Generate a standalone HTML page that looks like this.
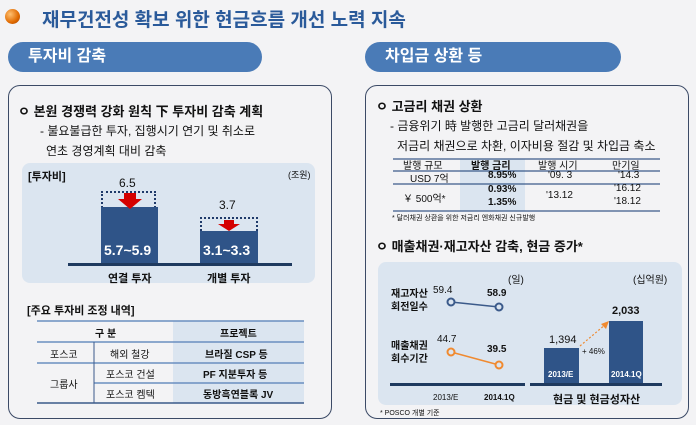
<!DOCTYPE html>
<html><head><meta charset="utf-8"><style>
body{margin:0;width:696px;height:425px;background:#f3f3f5;position:relative;overflow:hidden;font-family:"Liberation Sans","Noto Sans CJK KR",sans-serif;color:#111}
.a{position:absolute;white-space:nowrap}
.pill{position:absolute;height:30px;border-radius:15px;background:#4a7bb7;color:#fff;font-weight:bold;font-size:16px;line-height:30px;padding-left:20px;box-sizing:border-box}
.box{position:absolute;border:1.3px solid #3b4a66;border-radius:12px;background:#f3f3f5}
.b{font-weight:bold}
</style></head><body>
<div class="a" style="left:5px;top:9px;width:15px;height:15px;border-radius:50%;background:radial-gradient(circle at 35% 35%,#ffc070,#e06a00 60%,#a04000)"></div>
<div class="a b" style="left:42px;top:5px;font-size:19px;color:#2a5a9a">재무건전성 확보 위한 현금흐름 개선 노력 지속</div>

<div class="pill" style="left:8px;top:42px;width:254px">투자비 감축</div>
<div class="pill" style="left:365px;top:42px;width:256px">차입금 상환 등</div>

<div class="box" style="left:8px;top:85px;width:322px;height:332px"></div>
<div class="box" style="left:365px;top:85px;width:322px;height:332px"></div>

<!-- left -->
<div class="a b" style="left:18px;top:101px;font-size:13px">ㅇ 본원 경쟁력 강화 원칙 下 투자비 감축 계획</div>
<div class="a" style="left:40px;top:122px;font-size:12px">- 불요불급한 투자, 집행시기 연기 및 취소로</div>
<div class="a" style="left:46px;top:142px;font-size:12px">연초 경영계획 대비 감축</div>
<div class="a" style="left:22px;top:163px;width:293px;height:120px;background:#dbe5f0;border-radius:8px"></div>
<div class="a b" style="left:28px;top:168px;font-size:11px">[투자비]</div>
<div class="a" style="left:288px;top:168px;font-size:9px">(조원)</div>
<div class="a" style="left:119px;top:176px;font-size:12px">6.5</div>
<div class="a" style="left:219px;top:198px;font-size:12px">3.7</div>
<div class="a" style="left:101px;top:191px;width:55px;height:72px;border:2px dotted #1f3a6a;box-sizing:border-box"></div>
<div class="a" style="left:101px;top:207px;width:57px;height:56px;background:#2f5488"></div>
<div class="a" style="left:200px;top:217px;width:58px;height:46px;border:2px dotted #1f3a6a;box-sizing:border-box"></div>
<div class="a" style="left:200px;top:231px;width:58px;height:32px;background:#2f5488"></div>
<svg class="a" style="left:0;top:0" width="330" height="290">
<polygon points="124,193 136,193 136,199 142,199 130,209 118,199 124,199" fill="#d40000"/>
<polygon points="224,220 234,220 234,224 240,224 229,231 218,224 224,224" fill="#d40000"/>
</svg>
<div class="a b" style="left:104px;top:242px;font-size:14px;color:#fff">5.7~5.9</div>
<div class="a b" style="left:203px;top:242px;font-size:14px;color:#fff">3.1~3.3</div>
<div class="a" style="left:68px;top:263px;width:224px;height:3px;background:#1f3a5f"></div>
<div class="a b" style="left:108px;top:270px;font-size:11px">연결 투자</div>
<div class="a b" style="left:207px;top:270px;font-size:11px">개별 투자</div>
<div class="a b" style="left:27px;top:302px;font-size:11px">[주요 투자비 조정 내역]</div>
<div class="a" style="left:173px;top:321px;width:131px;height:82px;background:#dbe5f0"></div>
<svg class="a" style="left:0;top:0" width="330" height="420">
<g stroke="#6a8fc0" stroke-width="1.5"><line x1="37" y1="321" x2="304" y2="321"/><line x1="37" y1="342" x2="304" y2="342"/><line x1="37" y1="363" x2="304" y2="363"/><line x1="94" y1="383" x2="304" y2="383"/></g>
<line x1="37" y1="403" x2="304" y2="403" stroke="#3b5a8a" stroke-width="1.5"/>
<line x1="94" y1="342" x2="94" y2="403" stroke="#3b5a8a"/>
</svg>
<div class="a b" style="left:95px;top:325px;font-size:10px">구 분</div>
<div class="a b" style="left:220px;top:325px;font-size:10px">프로젝트</div>
<div class="a" style="left:50px;top:346px;font-size:10px">포스코</div>
<div class="a" style="left:110px;top:346px;font-size:10px">해외 철강</div>
<div class="a b" style="left:205px;top:346px;font-size:10px">브라질 CSP 등</div>
<div class="a" style="left:50px;top:376px;font-size:10px">그룹사</div>
<div class="a" style="left:106px;top:366px;font-size:10px">포스코 건설</div>
<div class="a b" style="left:203px;top:366px;font-size:10px">PF 지분투자 등</div>
<div class="a" style="left:106px;top:386px;font-size:10px">포스코 켐텍</div>
<div class="a b" style="left:203px;top:386px;font-size:10px">동방흑연블록 JV</div>

<!-- right -->
<div class="a b" style="left:376px;top:96px;font-size:13px">ㅇ 고금리 채권 상환</div>
<div class="a" style="left:390px;top:117px;font-size:12px">- 금융위기 時 발행한 고금리 달러채권을</div>
<div class="a" style="left:397px;top:137px;font-size:12px">저금리 채권으로 차환, 이자비용 절감 및 차입금 축소</div>
<div class="a" style="left:460px;top:159px;width:65px;height:52px;background:#dbe5f0"></div>
<svg class="a" style="left:0;top:0" width="696" height="240">
<g stroke="#3b5a8a" stroke-width="1.3"><line x1="393" y1="159" x2="660" y2="159"/><line x1="393" y1="171" x2="660" y2="171"/><line x1="393" y1="184" x2="660" y2="184"/><line x1="393" y1="211" x2="660" y2="211"/></g>
</svg>
<div class="a" style="left:403px;top:157px;font-size:10px">발행 규모</div>
<div class="a b" style="left:471px;top:157px;font-size:10px">발행 금리</div>
<div class="a" style="left:538px;top:157px;font-size:10px">발행 시기</div>
<div class="a" style="left:612px;top:157px;font-size:10px">만기일</div>
<div class="a" style="left:410px;top:170px;font-size:10px">USD 7억</div>
<div class="a b" style="left:488px;top:170px;font-size:10px">8.95%</div>
<div class="a" style="left:548px;top:170px;font-size:10px">'09. 3</div>
<div class="a" style="left:618px;top:170px;font-size:10px">'14.3</div>
<div class="a" style="left:403px;top:190px;font-size:10px">￥ 500억*</div>
<div class="a b" style="left:488px;top:184px;font-size:10px">0.93%</div>
<div class="a b" style="left:488px;top:197px;font-size:10px">1.35%</div>
<div class="a" style="left:546px;top:190px;font-size:10px">'13.12</div>
<div class="a" style="left:614px;top:183px;font-size:10px">'16.12</div>
<div class="a" style="left:614px;top:196px;font-size:10px">'18.12</div>
<div class="a" style="left:392px;top:213px;font-size:7px">* 달러채권 상환을 위한 저금리 엔화채권 신규발행</div>
<div class="a b" style="left:376px;top:236px;font-size:13px">ㅇ 매출채권·재고자산 감축, 현금 증가*</div>
<div class="a" style="left:378px;top:262px;width:304px;height:143px;background:#dbe5f0;border-radius:8px"></div>
<div class="a" style="left:508px;top:271px;font-size:10px">(일)</div>
<div class="a" style="left:633px;top:271px;font-size:10px">(십억원)</div>
<div class="a b" style="left:391px;top:288px;font-size:10px;line-height:13px">재고자산<br>회전일수</div>
<div class="a b" style="left:391px;top:340px;font-size:10px;line-height:13px">매출채권<br>회수기간</div>
<div class="a" style="left:433px;top:285px;font-size:10px">59.4</div>
<div class="a b" style="left:487px;top:288px;font-size:10px">58.9</div>
<div class="a" style="left:437px;top:334px;font-size:10px">44.7</div>
<div class="a b" style="left:487px;top:344px;font-size:10px">39.5</div>
<div class="a" style="left:544px;top:348px;width:35px;height:35px;background:#2f5488"></div>
<div class="a" style="left:609px;top:321px;width:34px;height:62px;background:#2f5488"></div>
<svg class="a" style="left:0;top:0" width="696" height="425">
<line x1="451" y1="302" x2="499" y2="307" stroke="#3b5a8a" stroke-width="1.5"/>
<circle cx="451" cy="302" r="3.5" fill="#dbe5f0" stroke="#3b5a8a" stroke-width="2"/>
<circle cx="499" cy="307" r="3.5" fill="#dbe5f0" stroke="#3b5a8a" stroke-width="2"/>
<line x1="451" y1="352" x2="499" y2="365" stroke="#f08a30" stroke-width="1.5"/>
<circle cx="451" cy="352" r="3.5" fill="#dbe5f0" stroke="#f08a30" stroke-width="2"/>
<circle cx="499" cy="365" r="3.5" fill="#dbe5f0" stroke="#f08a30" stroke-width="2"/>
<line x1="580" y1="346" x2="606" y2="324" stroke="#f08a30" stroke-width="1.2" stroke-dasharray="2,2"/>
<polygon points="609,321 601,324 606,329" fill="#f08a30"/>
<rect x="390" y="383" width="135" height="3" fill="#1f3a5f"/>
<rect x="530" y="383" width="132" height="3" fill="#1f3a5f"/>
</svg>
<div class="a" style="left:549px;top:334px;font-size:11px">1,394</div>
<div class="a b" style="left:612px;top:305px;font-size:11px">2,033</div>
<div class="a" style="left:582px;top:347px;font-size:8px">+ 46%</div>
<div class="a b" style="left:548px;top:370px;font-size:8px;color:#fff">2013/E</div>
<div class="a b" style="left:611px;top:370px;font-size:8px;color:#fff">2014.1Q</div>
<div class="a" style="left:433px;top:393px;font-size:8px">2013/E</div>
<div class="a b" style="left:484px;top:393px;font-size:8px">2014.1Q</div>
<div class="a b" style="left:553px;top:391px;font-size:11px">현금 및 현금성자산</div>
<div class="a" style="left:380px;top:408px;font-size:7px">* POSCO 개별 기준</div>
</body></html>
